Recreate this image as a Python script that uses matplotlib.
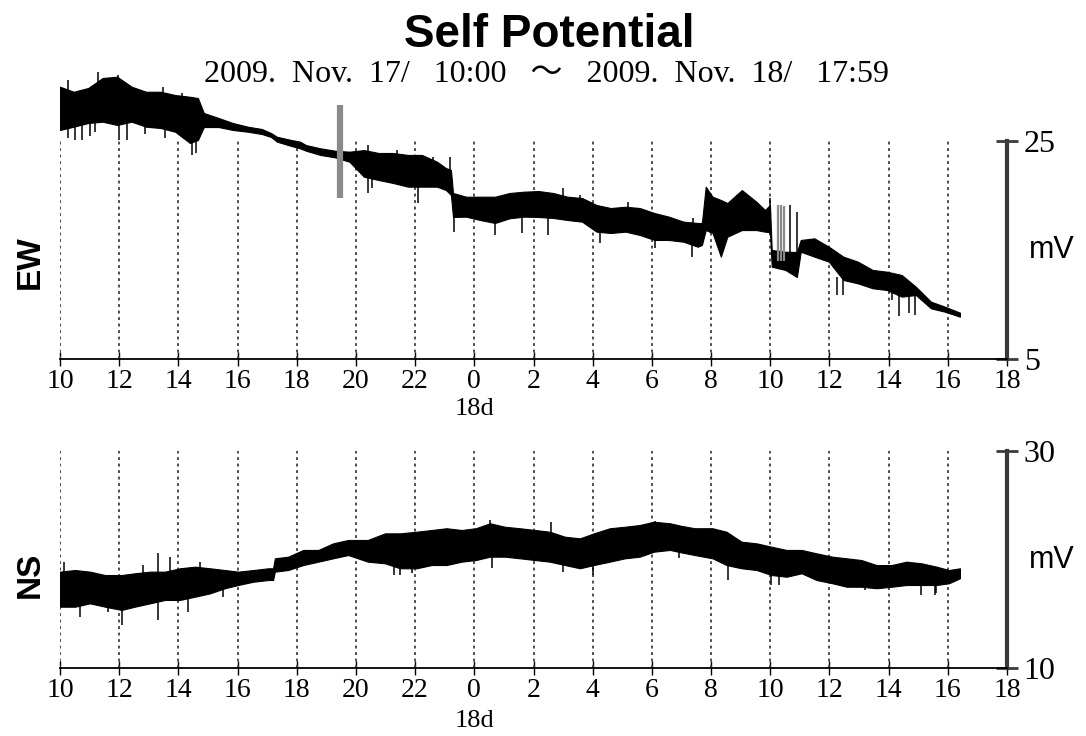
import matplotlib
matplotlib.use('Agg')
import matplotlib.pyplot as plt
import matplotlib.transforms as mtransforms

# Time axis: hours since 2009-11-17 10:00
ew_t = [0.00, 0.46, 0.95, 1.44, 1.93, 2.42, 2.91, 3.40, 3.89, 4.39, 4.66, 4.86, 5.36, 5.84,
        6.35, 6.82, 7.13, 7.33, 7.82, 8.11, 8.31, 8.80, 9.29, 9.78, 10.27, 10.77, 11.25, 11.76,
        12.23, 12.74, 13.04, 13.21, 13.28, 13.72, 14.20, 14.70, 15.19, 15.68, 16.17, 16.66,
        17.15, 17.64, 18.13, 18.61, 19.11, 19.59, 20.09, 20.57, 21.07, 21.55, 21.69, 21.82,
        22.05, 22.33, 22.55, 23.04, 23.53, 23.82, 23.99, 24.05, 24.51, 24.90, 25.03, 25.49,
        25.98, 26.47, 26.96, 27.46, 27.94, 28.44, 28.92, 29.43, 29.90, 30.41]
ew_hi = [29.98, 29.52, 29.86, 30.78, 30.90, 29.98, 29.52, 29.52, 29.22, 29.06, 28.94, 27.57,
         27.11, 26.65, 26.31, 26.10, 25.73, 25.39, 25.09, 24.94, 24.63, 24.33, 24.11, 24.02,
         24.17, 23.90, 23.90, 23.72, 23.72, 23.10, 22.52, 22.34, 20.23, 19.89, 19.89, 19.89,
         20.23, 20.35, 20.41, 20.23, 19.89, 19.77, 19.13, 18.85, 18.97, 18.85, 18.39, 18.06,
         17.60, 17.48, 17.48, 20.81, 19.89, 19.59, 19.31, 20.50, 19.43, 18.67, 19.13, 15.00,
         14.84, 14.82, 15.92, 16.07, 15.30, 14.39, 13.93, 13.17, 13.01, 12.71, 11.63, 10.26,
         9.80, 9.25]
ew_lo = [26.01, 26.31, 26.65, 26.77, 26.47, 26.77, 26.31, 26.19, 25.85, 24.82, 25.09, 26.28,
         26.28, 26.01, 25.85, 25.64, 25.37, 24.94, 24.54, 24.33, 24.11, 23.72, 23.50, 23.10,
         21.72, 21.42, 21.15, 20.81, 20.81, 20.81, 20.50, 20.05, 18.03, 18.06, 17.75, 17.48,
         17.91, 18.06, 18.03, 17.94, 17.75, 17.60, 16.68, 16.56, 16.68, 16.38, 15.92, 15.92,
         15.76, 15.30, 15.46, 16.83, 16.56, 14.39, 16.22, 16.83, 16.83, 16.68, 16.65, 13.47,
         13.17, 12.52, 14.84, 14.39, 13.93, 12.25, 11.94, 11.49, 11.33, 10.72, 10.87, 9.65,
         9.34, 8.88]

# single spikes sticking out of the EW band
ew_spike_t = [0.27, 0.27, 0.50, 0.74, 1.00, 1.18, 1.28, 1.96, 2.00, 2.26, 2.87, 3.48, 3.55,
              4.12, 4.45, 4.60, 4.66, 10.40, 10.54, 11.38, 12.10, 12.60, 13.18, 13.30, 14.70,
              15.60, 16.50, 16.98, 17.57, 18.24, 19.19, 20.10, 21.35, 21.40, 23.99, 24.66,
              24.89, 26.25, 26.45, 28.10, 28.35, 28.70, 28.90]
ew_spike_lo = [25.28, 28.00, 25.10, 25.09, 25.50, 25.80, 28.50, 28.50, 25.10, 25.09, 25.60,
               28.00, 25.28, 27.50, 23.72, 23.90, 27.00, 20.23, 20.69, 22.50, 19.31, 22.00,
               21.50, 16.68, 16.38, 16.56, 16.38, 18.50, 18.50, 15.64, 17.80, 15.18, 14.39,
               16.50, 16.50, 14.00, 13.50, 10.87, 10.87, 10.41, 8.90, 9.20, 9.00]
ew_spike_hi = [27.00, 30.60, 27.00, 27.00, 27.00, 27.00, 31.36, 31.06, 27.00, 27.00, 27.00,
               29.98, 27.00, 29.37, 26.00, 26.00, 28.94, 24.63, 22.50, 24.17, 21.50, 23.56,
               23.56, 19.50, 18.50, 18.50, 18.50, 20.66, 20.05, 17.50, 19.43, 17.00, 16.50,
               17.94, 19.74, 19.13, 18.51, 12.50, 13.00, 12.00, 11.00, 11.00, 11.00]
# grey bursts (EW)
ew_grey_t = [9.38, 9.46, 9.54, 24.26, 24.36, 24.46]
ew_grey_lo = [19.77, 19.77, 19.77, 14.00, 14.00, 14.00]
ew_grey_hi = [28.30, 28.30, 28.30, 19.13, 19.13, 19.00]

ns_t = [0.00, 0.51, 1.01, 1.52, 2.08, 2.53, 3.04, 3.55, 4.05, 4.56, 5.07, 5.57, 6.02, 6.53,
        7.04, 7.20, 7.26, 7.71, 8.22, 8.73, 9.23, 9.74, 10.40, 10.98, 11.49, 12.05, 12.56,
        13.06, 13.57, 14.05, 14.53, 15.03, 15.54, 16.05, 16.55, 17.06, 17.57, 18.04, 18.58,
        19.09, 19.59, 20.07, 20.61, 21.00, 21.45, 22.05, 22.52, 23.03, 23.54, 24.04, 24.55,
        25.06, 25.56, 26.10, 26.58, 27.08, 27.59, 28.10, 28.60, 29.11, 29.62, 30.04, 30.41]
ns_hi = [18.88, 19.03, 18.88, 18.57, 18.57, 18.73, 18.88, 18.88, 19.19, 19.34, 19.19, 19.03,
         18.88, 19.03, 19.19, 19.19, 20.11, 20.26, 20.88, 20.88, 21.49, 21.80, 21.80, 22.41,
         22.41, 22.56, 22.72, 22.88, 22.72, 22.88, 23.34, 23.02, 22.88, 22.72, 22.56, 22.10,
         21.95, 22.41, 22.88, 23.02, 23.18, 23.48, 23.34, 23.10, 22.88, 22.88, 22.56, 21.64,
         21.49, 21.18, 20.88, 20.88, 20.57, 20.26, 20.11, 19.95, 19.49, 19.49, 19.80, 19.65,
         19.34, 19.03, 19.19]
ns_lo = [15.65, 15.65, 15.96, 15.65, 15.35, 15.65, 15.96, 16.27, 16.27, 16.57, 16.88, 17.35,
         17.65, 17.95, 18.11, 18.11, 18.88, 19.03, 19.49, 19.80, 20.11, 20.41, 19.80, 19.65,
         19.19, 19.19, 19.49, 19.49, 19.80, 19.95, 20.26, 20.26, 20.11, 19.95, 19.80, 19.49,
         19.19, 19.49, 19.80, 20.11, 20.26, 20.72, 20.88, 20.65, 20.41, 20.11, 19.49, 19.19,
         19.03, 18.57, 18.41, 18.73, 18.11, 17.81, 17.49, 17.49, 17.35, 17.49, 17.65, 17.65,
         17.65, 17.81, 18.27]
ns_spike_t = [0.15, 0.68, 1.62, 2.08, 2.80, 3.30, 3.72, 4.32, 4.73, 5.50, 11.30, 11.49,
              11.90, 14.53, 14.60, 16.60, 17.00, 18.00, 20.10, 20.90, 22.57, 24.04, 24.30,
              27.20, 29.11, 29.56, 29.60]
ns_spike_lo = [17.00, 14.73, 15.19, 13.96, 17.50, 14.42, 16.50, 15.19, 18.00, 16.57, 18.57,
               18.57, 18.80, 22.00, 19.20, 21.50, 18.88, 18.57, 22.00, 20.10, 18.11, 17.65,
               17.65, 17.19, 16.73, 16.73, 16.90]
ns_spike_hi = [19.80, 16.50, 17.00, 16.00, 19.49, 20.57, 20.26, 17.00, 19.80, 18.00, 20.00,
               20.00, 20.00, 23.64, 20.50, 23.48, 20.00, 20.00, 23.57, 21.50, 19.50, 19.00,
               19.00, 18.50, 18.00, 18.00, 18.00]

hour_ticks = list(range(0, 33, 2))
hour_labels = [str((10 + h) % 24) for h in hour_ticks]
grid_t = list(range(0, 31, 2))

serif = 'Liberation Serif'
sans = 'Liberation Sans'

fig = plt.figure(figsize=(10.86, 7.36), dpi=100)
W, H = 1086, 736


def make_panel(rect, ylim, ybounds, t, lo, hi, sp_t, sp_lo, sp_hi, name, mv_y, name_y, d_y):
    ax = fig.add_axes(rect)
    ax.set_xlim(0, 32)
    ax.set_ylim(*ylim)
    ax.vlines(grid_t, ybounds[0], ybounds[1], colors='0.25', linestyles=(0, (1.6, 2.0)), lw=1.3)
    ax.fill_between(t, lo, hi, facecolor='black', edgecolor='black', lw=0.8, zorder=3)
    ax.vlines(sp_t, sp_lo, sp_hi, colors='black', lw=1.1, zorder=3)

    for s in ['left', 'top']:
        ax.spines[s].set_visible(False)
    ax.spines['bottom'].set_linewidth(1.3)
    ax.spines['right'].set_bounds(*ybounds)
    ax.spines['right'].set_linewidth(3)
    ax.spines['right'].set_color('#3a3a3a')

    ax.set_xticks(hour_ticks)
    ax.set_xticklabels(hour_labels, family=serif)
    ax.tick_params(axis='x', direction='inout', length=10, width=1, labelsize=20, pad=2)
    ax.yaxis.tick_right()
    ax.set_yticks(list(ybounds))
    ax.set_yticklabels([str(v) for v in ybounds], family=serif)
    ax.tick_params(axis='y', direction='inout', length=16, width=2, labelsize=23, pad=4,
                   color='#3a3a3a')

    tr = mtransforms.blended_transform_factory(ax.transData, fig.transFigure)
    ax.text(14, 1 - d_y / H, '18d', transform=tr, ha='center', va='center',
            family=serif, fontsize=19)
    fig.text(1052 / W, 1 - mv_y / H, 'mV', ha='center', va='center', family=sans, fontsize=22)
    fig.text(30 / W, 1 - name_y / H, name, ha='center', va='center', rotation=90,
             family=sans, fontweight='bold', fontsize=24)
    return ax


left = 60 / W
width = (1007 - 60) / W
ax1 = make_panel([left, (H - 359) / H, width, (359 - 64.7) / H], (5, 32), (5, 25),
                 ew_t, ew_lo, ew_hi, ew_spike_t, ew_spike_lo, ew_spike_hi,
                 'EW', 250, 262, 409)
ax1.vlines(ew_grey_t, ew_grey_lo, ew_grey_hi, colors='#8a8a8a', lw=1.6, zorder=4)

ax2 = make_panel([left, (H - 668) / H, width, 217 / H], (10, 30), (10, 30),
                 ns_t, ns_lo, ns_hi, ns_spike_t, ns_spike_lo, ns_spike_hi,
                 'NS', 560, 575, 721)

fig.text(549 / W, 1 - 35 / H, 'Self Potential', ha='center', va='center',
         family=sans, fontweight='bold', fontsize=33)
fig.text(547 / W, 1 - 75 / H, '2009.  Nov.  17/   10:00   ～   2009.  Nov.  18/   17:59',
         ha='center', va='center', family=[serif, 'Noto Sans CJK JP'], fontsize=23)

fig.savefig('out.png', dpi=100)
